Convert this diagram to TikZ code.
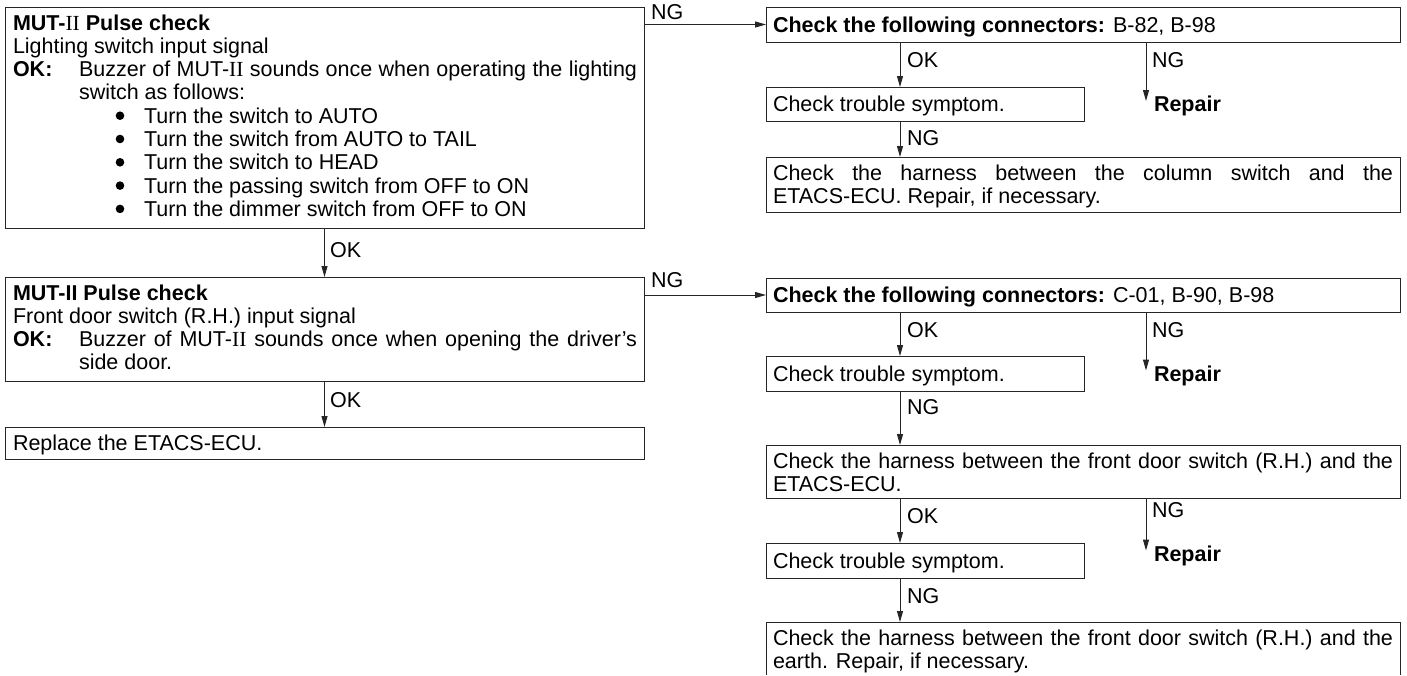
\documentclass[tikz,border=0pt]{standalone}
\usepackage{fontspec}
\setmainfont{Liberation Sans}
\newfontfamily\romfont{Liberation Serif}
\usetikzlibrary{arrows.meta}
\newcommand{\RII}{{\romfont\mdseries II}}
\tikzset{
  box/.style={draw=black!85, line width=1pt, anchor=north west, inner sep=0pt, outer sep=0pt},
  txt/.style={anchor=base west, inner sep=0pt, outer sep=0pt, text height=15.5pt, text depth=4pt},
  lbl/.style={anchor=base west, inner sep=0pt, text height=15.5pt, text depth=1pt},
  arr/.style={line width=1pt, draw=black!85, -{Triangle[length=11pt,width=6pt]}},
  bulletdot/.style={fill=black},
}
\begin{document}
\begin{tikzpicture}[x=1pt,y=-1pt]
\fontsize{21.5}{23}\selectfont
\useasboundingbox (0,0) rectangle (1407,675);
% ---------------- left column ----------------
\node[box, minimum width=639pt, minimum height=221pt] (A) at (5,7) {};
\node[txt] (a1) at (13,30) {\textbf{MUT-\RII\ Pulse check}};
\node[txt] (a2) at (13,53.3) {Lighting switch input signal};
\node[txt] (a3) at (13,76.6) {\textbf{OK:}};
\node[txt] (a3b) at (79,76.6) {\makebox[558pt][s]{Buzzer of MUT-\RII\ sounds once when operating the lighting}};
\node[txt] (a4) at (79,99.9) {switch as follows:};
\node[txt] (a5) at (144,123.2) {Turn the switch to AUTO};
\node[txt] (a6) at (144,146.5) {Turn the switch from AUTO to TAIL};
\node[txt] (a7) at (144,169.8) {Turn the switch to HEAD};
\node[txt] (a8) at (144,193.1) {Turn the passing switch from OFF to ON};
\node[txt] (a9) at (144,216.4) {Turn the dimmer switch from OFF to ON};
\foreach \n in {a5,a6,a7,a8,a9}
  \fill[bulletdot] ([xshift=-24pt,yshift=7.5pt]\n.base west) circle (4.3pt);

\node[box, minimum width=639pt, minimum height=104pt] (B) at (5,277) {};
\node[txt] (b1) at (13,300) {\textbf{MUT-II Pulse check}};
\node[txt] (b2) at (13,323.3) {Front door switch (R.H.) input signal};
\node[txt] (b3) at (13,346.6) {\textbf{OK:}};
\node[txt] (b3b) at (79,346.6) {\makebox[558pt][s]{Buzzer of MUT-\RII\ sounds once when opening the driver’s}};
\node[txt] (b4) at (79,369.9) {side door.};

\node[box, minimum width=639pt, minimum height=32pt] (R) at (5,427) {};
\node[txt] (r1) at (13,450) {Replace the ETACS-ECU.};

\draw[arr] (A.south) -- (B.north);
\node[lbl] (lok1) at (330,257) {OK};
\draw[arr] (B.south) -- (R.north);
\node[lbl] (lok2) at (330,407) {OK};

% ---------------- right upper ----------------
\node[box, minimum width=634pt, minimum height=35pt] (C1) at (766,7) {};
\node[txt] (c1) at (773,32) {\textbf{Check the following connectors:} B-82, B-98};
\node[box, minimum width=318pt, minimum height=34pt] (C2) at (766,87) {};
\node[txt] (c2) at (773,111.5) {Check trouble symptom.};
\node[txt, font=\bfseries] (rep1) at (1154,111.5) {Repair};
\node[box, minimum width=634pt, minimum height=55pt] (C3) at (766,157) {};
\node[txt] (c3a) at (773,180.5) {\makebox[620pt][s]{Check the harness between the column switch and the}};
\node[txt] (c3b) at (773,203.5) {ETACS-ECU. Repair, if necessary.};

\coordinate (ox) at (900,0);
\coordinate (nx) at (1146,0);
\draw[arr] (A.east |- C1.west) -- (C1.west);
\node[lbl] (ng1) at (651,19) {NG};
\draw[arr] (C1.south -| ox) -- (C2.north -| ox);
\node[lbl] (ok3) at (907,67) {OK};
\draw[arr] (C1.south -| nx) -- ([yshift=-5pt]rep1.north -| nx);
\node[lbl] (ng3) at (1152,67) {NG};
\draw[arr] (C2.south -| ox) -- (C3.north -| ox);
\node[lbl] (ng4) at (907,145) {NG};

% ---------------- right lower ----------------
\node[box, minimum width=634pt, minimum height=34pt] (D1) at (766,278) {};
\node[txt] (d1) at (773,302.5) {\textbf{Check the following connectors:} C-01, B-90, B-98};
\draw[arr] (B.east |- D1.west) -- (D1.west);
\node[lbl] (ng2) at (651,287) {NG};

\node[box, minimum width=318pt, minimum height=35pt] (D2) at (766,356) {};
\node[txt] (d2) at (773,381) {Check trouble symptom.};
\node[txt, font=\bfseries] (rep2) at (1154,381) {Repair};
\draw[arr] (D1.south -| ox) -- (D2.north -| ox);
\node[lbl] (ok5) at (907,337) {OK};
\draw[arr] (D1.south -| nx) -- ([yshift=-5pt]rep2.north -| nx);
\node[lbl] (ng5) at (1152,337) {NG};

\node[box, minimum width=634pt, minimum height=53pt] (D3) at (766,445) {};
\node[txt] (d3a) at (773,468.5) {\makebox[620pt][s]{Check the harness between the front door switch (R.H.) and the}};
\node[txt] (d3b) at (773,491.5) {ETACS-ECU.};
\draw[arr] (D2.south -| ox) -- (D3.north -| ox);
\node[lbl] (ng6) at (907,414) {NG};

\node[box, minimum width=318pt, minimum height=35pt] (D4) at (766,543) {};
\node[txt] (d4) at (773,568) {Check trouble symptom.};
\node[txt, font=\bfseries] (rep3) at (1154,561) {Repair};
\draw[arr] (D3.south -| ox) -- (D4.north -| ox);
\node[lbl] (ok7) at (907,523) {OK};
\draw[arr] (D3.south -| nx) -- ([yshift=-5pt]rep3.north -| nx);
\node[lbl] (ng7) at (1152,517) {NG};

\coordinate (D5nw) at (766,622);
\coordinate (D5ne) at (1400,622);
\coordinate (D5sw) at (766,675);
\coordinate (D5se) at (1400,675);
\draw[line width=1pt, draw=black!85] (D5sw) -- (D5nw) -- (D5ne) -- (D5se);
\node[txt] (d5a) at (773,645.5) {\makebox[620pt][s]{Check the harness between the front door switch (R.H.) and the}};
\node[txt] (d5b) at (773,668.5) {earth. Repair, if necessary.};
\draw[arr] (D4.south -| ox) -- (D5nw -| ox);
\node[lbl] (ng8) at (907,603) {NG};
\end{tikzpicture}
\end{document}
